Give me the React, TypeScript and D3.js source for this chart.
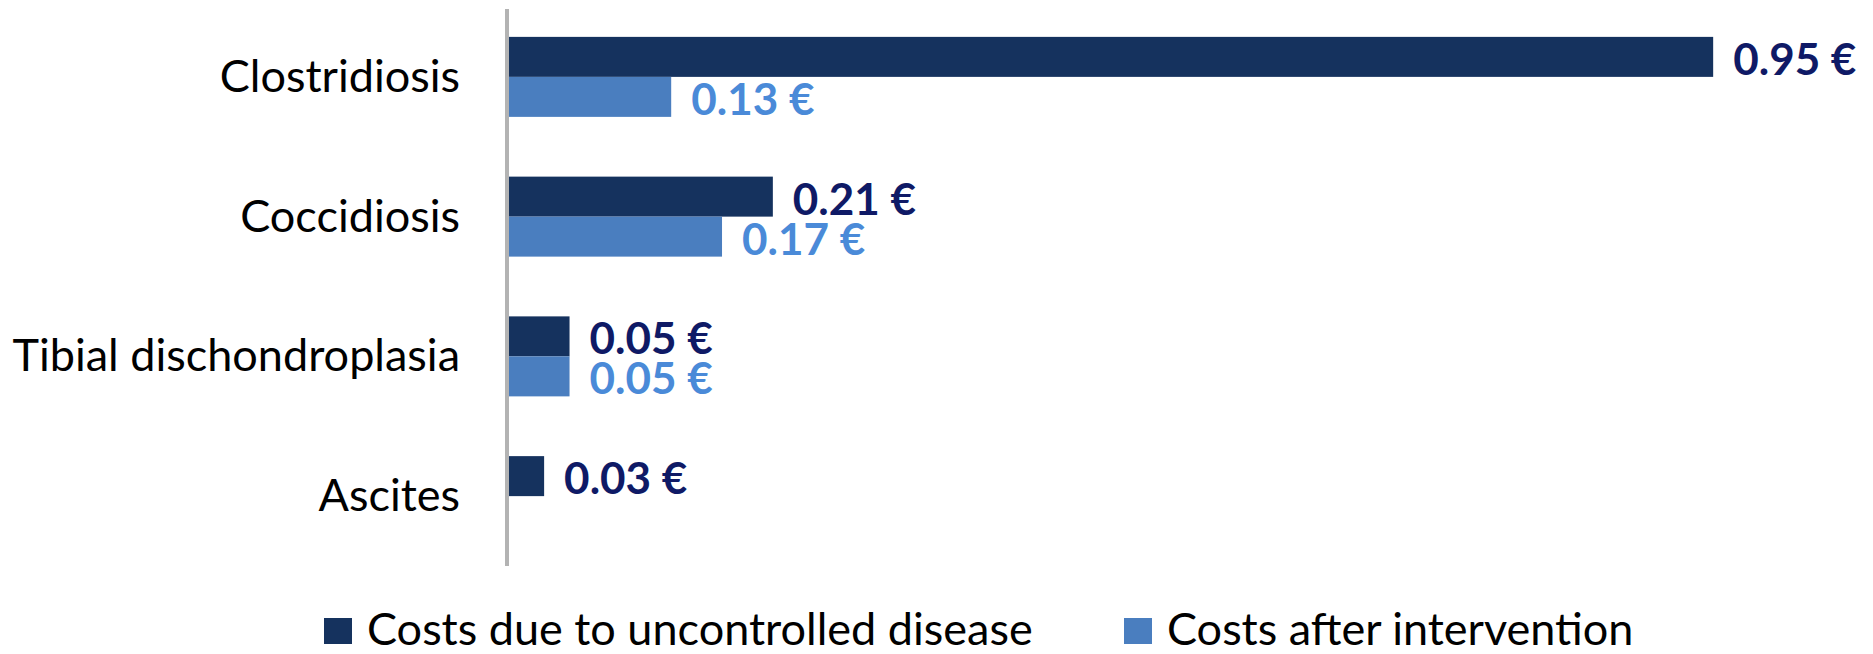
import { useEffect, useRef } from 'react';
import * as d3 from 'd3';

const CATEGORIES = ['Clostridiosis', 'Coccidiosis', 'Tibial dischondroplasia', 'Ascites'];
const SERIES = ['Costs due to uncontrolled disease', 'Costs after intervention'];
const UNCONTROLLED = [0.95, 0.21, 0.05, 0.03];
const AFTER: (number | null)[] = [0.13, 0.17, 0.05, null];

const BAR_COLORS = ['#15325e', '#4a7ebf'];
const LABEL_COLORS = ['#0f1a66', '#4a8ad8'];

export default function App() {
  const svgRef = useRef<SVGSVGElement>(null);

  useEffect(() => {
    if (!svgRef.current) return;
    const width = 1873;
    const height = 654;
    const font = 'Lato, "Open Sans", sans-serif';

    const svg = d3.select(svgRef.current);
    svg.selectAll('*').remove();
    svg.attr('width', width).attr('height', height).attr('viewBox', `0 0 ${width} ${height}`);

    const x = d3.scaleLinear().domain([0, 1]).range([506, 1776.7]);
    const y0 = d3.scaleBand<string>().domain(CATEGORIES).range([7, 566]).padding(0);
    const y1 = d3.scaleBand<string>().domain(SERIES).range([0, y0.bandwidth()]).paddingInner(0).paddingOuter(0.747);

    const rows = CATEGORIES.map((c, i) => ({ cat: c, vals: [UNCONTROLLED[i], AFTER[i]] }));

    // bars + value labels
    const g = svg.append('g');
    rows.forEach((row) => {
      row.vals.forEach((v, s) => {
        if (v == null) return;
        const top = (y0(row.cat) ?? 0) + (y1(SERIES[s]) ?? 0);
        const bh = y1.bandwidth();
        g.append('rect')
          .attr('x', x(0))
          .attr('y', top)
          .attr('width', x(v) - x(0))
          .attr('height', bh)
          .attr('fill', BAR_COLORS[s]);
        g.append('text')
          .attr('x', x(v) + 20)
          .attr('y', top + bh / 2 + 18)
          .attr('font-family', font)
          .attr('font-size', 44)
          .attr('font-weight', 700)
          .attr('fill', LABEL_COLORS[s])
          .text(`${v.toFixed(2)} €`);
      });
    });

    // category labels
    CATEGORIES.forEach((c) => {
      svg.append('text')
        .attr('x', 460)
        .attr('y', (y0(c) ?? 0) + y0.bandwidth() / 2 + 15)
        .attr('text-anchor', 'end')
        .attr('font-family', font)
        .attr('font-size', 45)
        .attr('fill', '#000')
        .text(c);
    });

    // vertical axis line
    svg.append('line')
      .attr('x1', 507).attr('x2', 507)
      .attr('y1', 9).attr('y2', 566)
      .attr('stroke', '#b3b3b3')
      .attr('stroke-width', 4);

    // legend (sits at the bottom edge, nudged up so descenders stay in frame)
    const legendX = [324, 1124];
    SERIES.forEach((s, i) => {
      const lg = svg.append('g').attr('transform', `translate(${legendX[i]}, 618)`);
      lg.append('rect').attr('width', 28).attr('height', 26).attr('fill', BAR_COLORS[i]);
      lg.append('text')
        .attr('x', 43)
        .attr('y', 27)
        .attr('font-family', font)
        .attr('font-size', 45)
        .attr('fill', '#000')
        .text(s);
    });
  }, []);

  return (
    <svg
      ref={svgRef}
      style={{ position: 'absolute', left: 0, top: 0, display: 'block', background: '#fff' }}
    />
  );
}
